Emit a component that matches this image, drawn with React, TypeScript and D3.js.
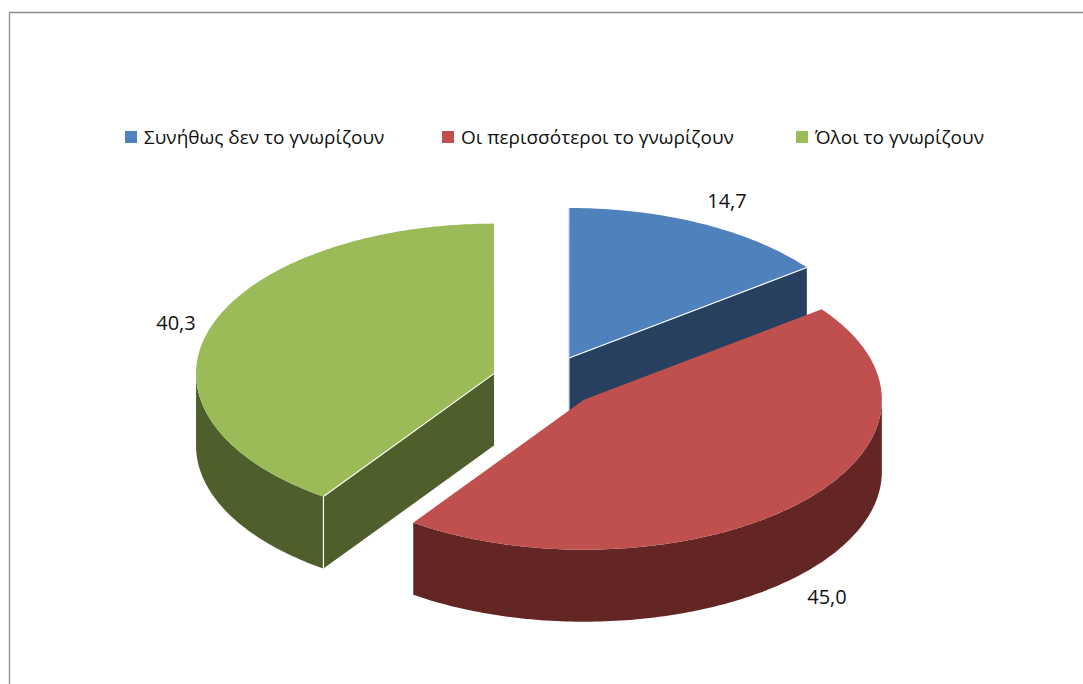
import React from "react";
import * as d3 from "d3";

const categories = ["Συνήθως δεν το γνωρίζουν", "Οι περισσότεροι το γνωρίζουν", "Όλοι το γνωρίζουν"];
const values = [14.7, 45.0, 40.3];
const valueLabels = ["14,7", "45,0", "40,3"];
const topColors = ["#4F81BD", "#C0504D", "#9BBB59"];
const sideColors = ["#284060", "#632625", "#4F5F2C"];
const legendX = [125, 442, 796];
const labelPos: [number, number][] = [[727, 208], [827, 604], [176, 330]];

const FONT = "'Open Sans', 'Noto Sans', sans-serif";
const cx = 545.2, cy = 381.5, rx = 298, ry = 150, depth = 72;
const explodeX = 0.18, explodeY = 0.175;

// Pie angles run clockwise from twelve o'clock; the ellipse squashes them for the tilt.
const slices = d3.pie<number>().sort(null)(values);
const projX = d3.scaleLinear().domain([-1, 1]).range([-rx, rx]);
const projY = d3.scaleLinear().domain([-1, 1]).range([-ry, ry]);

function rimPoints(a0: number, a1: number, ox: number, oy: number): [number, number][] {
  const n = Math.max(2, Math.ceil(Math.abs(a1 - a0) * 60));
  return d3.range(n + 1).map((i) => {
    const a = a0 + ((a1 - a0) * i) / n;
    return [ox + projX(Math.sin(a)), oy + projY(-Math.cos(a))] as [number, number];
  });
}

const line = d3.line();

function Slice({ index }: { index: number }) {
  const s = slices[index];
  const mid = (s.startAngle + s.endAngle) / 2;
  const ox = cx + explodeX * projX(Math.sin(mid));
  const oy = cy + explodeY * projY(-Math.cos(mid));
  const rim = rimPoints(s.startAngle, s.endAngle, ox, oy);
  const down = (pts: [number, number][]) => pts.map(([x, y]) => [x, y + depth] as [number, number]);

  // Outer wall: only the part of the rim on the front half of the ellipse shows.
  const front = rimPoints(
    Math.max(s.startAngle, Math.PI / 2),
    Math.min(s.endAngle, (3 * Math.PI) / 2),
    ox,
    oy
  );
  const hasWall = s.endAngle > Math.PI / 2 && s.startAngle < (3 * Math.PI) / 2;
  const wall = hasWall ? line([...front, ...down(front).reverse()]) + "Z" : null;

  const apex: [number, number] = [ox, oy];
  const first = rim[0];
  const last = rim[rim.length - 1];
  const quad = (p: [number, number]) => line([apex, p, [p[0], p[1] + depth], [apex[0], apex[1] + depth]]) + "Z";
  const top = line([apex, ...rim]) + "Z";
  const fill = sideColors[index];

  // Cut faces seen from above: blue shows its end face, green its start face.
  return (
    <g>
      {index === 0 && <path d={quad(last)} fill={fill} />}
      {index === 0 && <path d={line([apex, [apex[0], apex[1] + depth]]) ?? ""} stroke="#B8C4D4" strokeWidth={1} />}
      {index === 2 && <path d={quad(first)} fill={fill} />}
      {wall && <path d={wall} fill={fill} />}
      <path d={top} fill={topColors[index]} />
      {index === 0 && <path d={line([apex, last]) ?? ""} stroke="#fff" strokeWidth={1.2} fill="none" />}
      {index === 0 && <path d={line([apex, first]) ?? ""} stroke="#A9C0DE" strokeWidth={1} fill="none" />}
      {index === 2 && (
        <path
          d={line([[apex[0], apex[1]], first, [first[0], first[1] + depth]]) ?? ""}
          stroke="#fff"
          strokeWidth={1.2}
          fill="none"
        />
      )}
    </g>
  );
}

export default function App() {
  return (
    <svg
      width={1083}
      height={684}
      style={{ position: "absolute", left: 0, top: 0, display: "block", background: "#fff" }}
    >
      <path d="M9.5,684V12.5H1083" fill="none" stroke="#8C8C8C" strokeWidth={1.3} />
      {categories.map((c, i) => (
        <g key={c}>
          <rect x={legendX[i]} y={131} width={12} height={12} fill={topColors[i]} />
          <text x={legendX[i] + 19} y={144} fontFamily={FONT} fontSize={19} fill="#111">
            {c}
          </text>
        </g>
      ))}
      {[0, 2, 1].map((i) => (
        <Slice key={i} index={i} />
      ))}
      {valueLabels.map((t, i) => (
        <text key={t} x={labelPos[i][0]} y={labelPos[i][1]} textAnchor="middle" fontFamily={FONT} fontSize={20} fill="#111">
          {t}
        </text>
      ))}
    </svg>
  );
}
